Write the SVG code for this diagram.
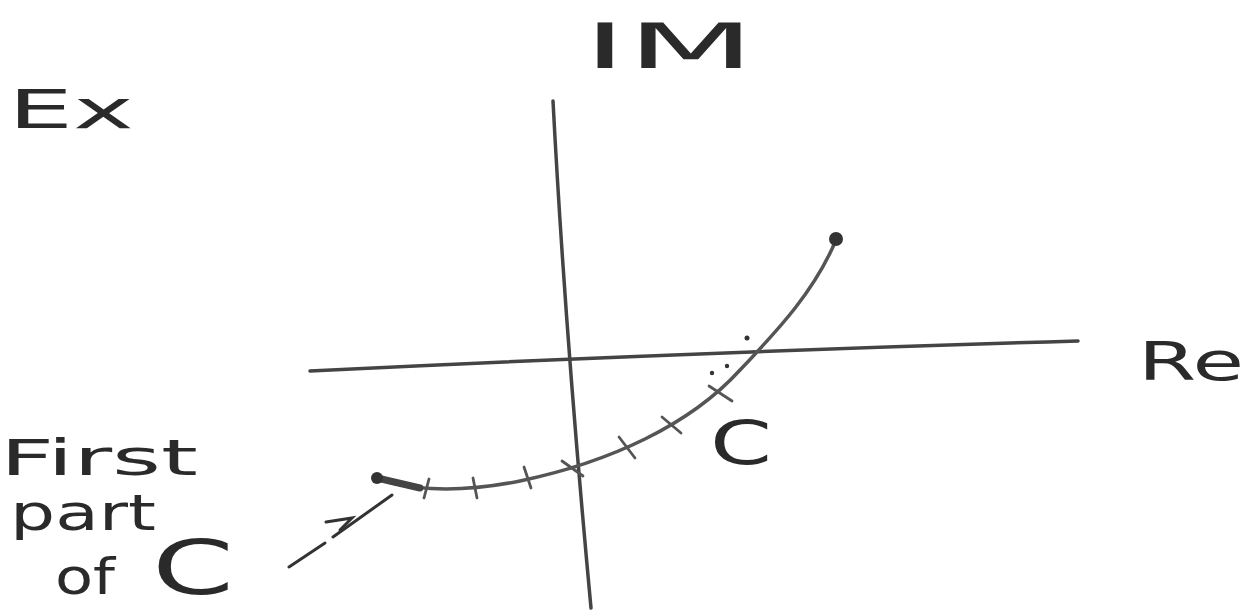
<svg xmlns="http://www.w3.org/2000/svg" width="1247" height="611" viewBox="0 0 1247 611">
<style>
.t{font-family:"DejaVu Sans","Liberation Sans",sans-serif;fill:#2a2a2a;font-weight:normal}
.ax{fill:none;stroke:#444;stroke-width:3.5;stroke-linecap:round}
.cv{fill:none;stroke:#555;stroke-width:3.5;stroke-linecap:round}
.tk{fill:none;stroke:#555;stroke-width:2.8;stroke-linecap:round}
</style>
<rect width="1247" height="611" fill="#fff"/>
<g id="axes">
<path class="ax" d="M310,371 Q700,352 1078,341"/>
<path class="ax" d="M553,101 Q565,330 591,608"/>
</g>
<g id="labels">
<text class="t" x="583" y="68" font-size="62" textLength="172" lengthAdjust="spacingAndGlyphs">IM</text>
<text class="t" x="8" y="128" font-size="54" textLength="126" lengthAdjust="spacingAndGlyphs">Ex</text>
<text class="t" x="1138" y="380" font-size="54" textLength="106" lengthAdjust="spacingAndGlyphs">Re</text>
<text class="t" x="710" y="464" font-size="60" textLength="62" lengthAdjust="spacingAndGlyphs">C</text>
</g>
<g id="curve-C">
<path class="cv" d="M377,478 C400,488 450,495 520,481 C610,462 690,425 740,370 C780,328 815,290 836,240"/>
<path d="M377,478 L420,488" stroke="#444" stroke-width="7" stroke-linecap="round" fill="none"/>
<circle cx="377" cy="478" r="6" fill="#333"/>
<circle cx="836" cy="239" r="7" fill="#333"/>
<g class="tk">
<path d="M429,479 L424,498"/>
<path d="M473,478 L477,498"/>
<path d="M524,467 L531,488"/>
<path d="M562,461 L583,476"/>
<path d="M619,437 L635,458"/>
<path d="M662,417 L681,433"/>
<path d="M709,386 L732,401"/>
</g>
<g fill="#333">
<circle cx="712" cy="373" r="2.2"/>
<circle cx="727" cy="366" r="2.2"/>
<circle cx="747" cy="338" r="2.5"/>
</g>
</g>
<g id="first-part-label">
<text class="t" x="0" y="475" font-size="50" textLength="198" lengthAdjust="spacingAndGlyphs">First</text>
<text class="t" x="10" y="530" font-size="50" textLength="146" lengthAdjust="spacingAndGlyphs">part</text>
<text class="t" x="55" y="594" font-size="50" textLength="60" lengthAdjust="spacingAndGlyphs">of</text>
<text class="t" x="152" y="594" font-size="74" textLength="82" lengthAdjust="spacingAndGlyphs">C</text>
</g>
<g id="connectors">
<path d="M289,567 L325,543 M333,537 L392,495" stroke="#333" stroke-width="3" fill="none" stroke-linecap="round"/>
<path d="M326,522 L352,518 L340,530" stroke="#333" stroke-width="3" fill="none" stroke-linecap="round"/>
</g>
</svg>
